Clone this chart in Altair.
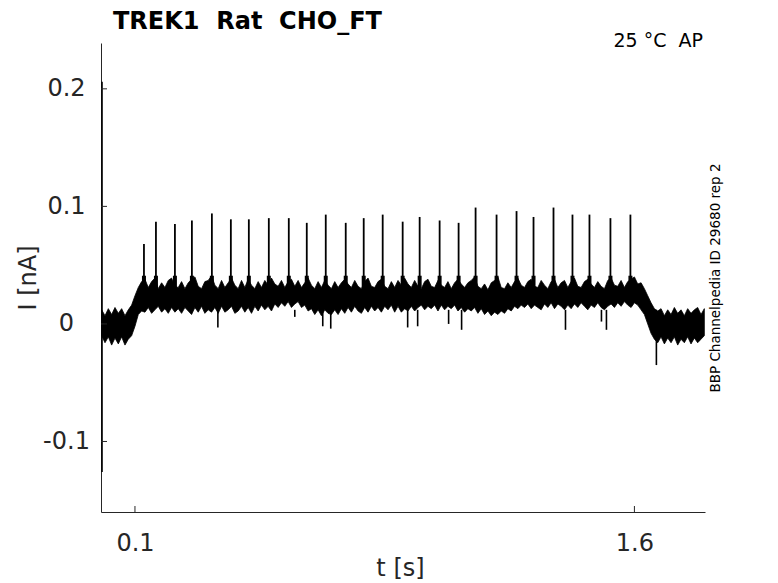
import altair as alt
import pandas as pd

# ---------------- data ----------------
# envelope of the overlaid current sweeps, sampled every 10 ms from t = 0.00 s to 1.81 s
UPPER = [
    0.012, 0.007, 0.013, 0.008, 0.014, 0.009, 0.013, 0.007, 0.012, 0.016,
    0.024, 0.031, 0.036,
    0.038, 0.031, 0.036, 0.039, 0.030, 0.035, 0.031, 0.037, 0.039, 0.032,
    0.031, 0.036, 0.030, 0.035, 0.038, 0.040, 0.032, 0.030, 0.036, 0.037,
    0.041, 0.033, 0.030, 0.037, 0.031, 0.035, 0.039, 0.033, 0.030, 0.037,
    0.031, 0.038, 0.033, 0.030, 0.036, 0.031, 0.037, 0.033, 0.039, 0.034,
    0.032, 0.037, 0.031, 0.036, 0.038, 0.032, 0.037, 0.031, 0.035, 0.039,
    0.033, 0.030, 0.036, 0.031, 0.037, 0.033, 0.030, 0.036, 0.031, 0.035,
    0.038, 0.034, 0.031, 0.037, 0.032, 0.030, 0.036, 0.039, 0.032, 0.031,
    0.036, 0.038, 0.032, 0.030, 0.036, 0.031, 0.037, 0.033, 0.039, 0.034,
    0.031, 0.037, 0.032, 0.030, 0.036, 0.038, 0.032, 0.031, 0.037, 0.033,
    0.031, 0.036, 0.030, 0.035, 0.038, 0.034, 0.031, 0.035, 0.037, 0.040,
    0.032, 0.030, 0.034, 0.029, 0.035, 0.037, 0.040, 0.031, 0.030, 0.035,
    0.031, 0.036, 0.039, 0.033, 0.031, 0.036, 0.038, 0.032, 0.031, 0.037,
    0.033, 0.030, 0.036, 0.038, 0.031, 0.035, 0.037, 0.031, 0.036, 0.039,
    0.032, 0.031, 0.036, 0.038, 0.034, 0.031, 0.036, 0.032, 0.030, 0.037,
    0.039, 0.033, 0.032, 0.037, 0.031, 0.036, 0.038, 0.040, 0.034, 0.035,
    0.030, 0.024, 0.018, 0.013, 0.011,
    0.013, 0.007, 0.012, 0.008, 0.014, 0.009, 0.012, 0.007, 0.013, 0.009,
    0.012, 0.014, 0.008, 0.013,
]
LOWER = [
    -0.010, -0.016, -0.011, -0.018, -0.012, -0.017, -0.011, -0.018, -0.013, -0.010,
    -0.002, 0.008, 0.011,
    0.010, 0.014, 0.009, 0.012, 0.015, 0.010, 0.013, 0.009, 0.014, 0.010,
    0.013, 0.009, 0.014, 0.011, 0.008, 0.014, 0.010, 0.015, 0.009, 0.012,
    0.010, 0.014, 0.009, 0.015, 0.010, 0.012, 0.015, 0.009, 0.011, 0.015,
    0.010, 0.014, 0.009, 0.015, 0.011, 0.016, 0.012, 0.015, 0.011, 0.017,
    0.014, 0.018, 0.015, 0.019, 0.014, 0.017, 0.019, 0.014, 0.016, 0.011,
    0.013, 0.008, 0.012, 0.007, 0.012, 0.009, 0.008, 0.012, 0.008, 0.013,
    0.009, 0.014, 0.010, 0.015, 0.011, 0.009, 0.014, 0.010, 0.015, 0.011,
    0.014, 0.010, 0.015, 0.012, 0.016, 0.010, 0.015, 0.010, 0.013, 0.011,
    0.015, 0.011, 0.014, 0.016, 0.012, 0.015, 0.013, 0.016, 0.011, 0.016,
    0.012, 0.015, 0.013, 0.016, 0.011, 0.014, 0.010, 0.013, 0.011, 0.014,
    0.009, 0.013, 0.008, 0.011, 0.007, 0.010, 0.008, 0.011, 0.009, 0.013,
    0.011, 0.015, 0.013, 0.016, 0.014, 0.017, 0.013, 0.016, 0.014, 0.012,
    0.017, 0.014, 0.018, 0.013, 0.017, 0.015, 0.012, 0.016, 0.013, 0.017,
    0.014, 0.018, 0.015, 0.012, 0.016, 0.014, 0.018, 0.014, 0.012, 0.015,
    0.017, 0.014, 0.018, 0.015, 0.019, 0.016, 0.014, 0.018, 0.016, 0.012,
    0.008, 0.000, -0.008, -0.013, -0.016,
    -0.011, -0.017, -0.012, -0.016, -0.011, -0.018, -0.013, -0.016, -0.011, -0.017,
    -0.012, -0.016, -0.013, -0.010,
]
TIME = [i / 100 for i in range(len(UPPER))]

# action-potential-clamp evoked current spikes: time [s] and peak [nA]
SPIKE_T = [0.127, 0.163, 0.220, 0.271, 0.331, 0.388, 0.442, 0.502, 0.562,
           0.616, 0.673, 0.733, 0.787, 0.844, 0.904, 0.955, 1.015, 1.072,
           1.123, 1.186, 1.246, 1.297, 1.357, 1.414, 1.465, 1.528, 1.588]
SPIKE_PEAK = [0.068, 0.087, 0.085, 0.088, 0.094, 0.089, 0.089, 0.090, 0.090,
              0.086, 0.093, 0.086, 0.090, 0.093, 0.087, 0.091, 0.088, 0.086,
              0.099, 0.093, 0.096, 0.091, 0.099, 0.093, 0.093, 0.090, 0.093]

# downward excursions: time [s] and minimum [nA]
DIP_T = [0.349, 0.580, 0.664, 0.688, 0.919, 0.949, 1.042, 1.081, 1.393, 1.501, 1.516, 1.666]
DIP_MIN = [-0.003, 0.006, -0.002, -0.004, -0.003, -0.002, 0.000, -0.005, -0.005, 0.002, -0.005, -0.035]

# capacitive transient at the very start
TRANS_T = [0.001]
TRANS_HI = [0.206]
TRANS_LO = [-0.126]

X_TICKS = [0.1, 1.6]
Y_TICKS = [-0.1, 0, 0.1, 0.2]

NB = "\u00a0"
TITLE = f"TREK1{NB}{NB}Rat{NB}{NB}CHO_FT"
TEMP = f"25{NB}°C{NB}{NB}AP"
SIDE = "BBP Channelpedia ID 29680 rep 2"

# ---------------- chart ----------------
FONT = "DejaVu Sans"
W, H = 604, 469
AX = "#262626"

xs = alt.Scale(domain=[-0.002, 1.812], nice=False, zero=False)
ys = alt.Scale(domain=[-0.16, 0.239], nice=False, zero=False)

band_df = pd.DataFrame({"t": TIME, "hi": UPPER, "lo": LOWER})
spk_df = pd.DataFrame({"t": SPIKE_T, "peak": SPIKE_PEAK,
                       "base": [0.030] * len(SPIKE_T), "bump": [0.041] * len(SPIKE_T)})
dip_df = pd.DataFrame({"t": DIP_T, "mn": DIP_MIN, "top": [0.012] * len(DIP_T)})
tr_df = pd.DataFrame({"t": TRANS_T, "hi": TRANS_HI, "lo": TRANS_LO})
yt_df = pd.DataFrame({"t": [0.0] * len(Y_TICKS), "hi": Y_TICKS})
xt_df = pd.DataFrame({"t": X_TICKS, "hi": [0.0] * len(X_TICKS)})

xaxis = alt.Axis(values=X_TICKS, grid=False, ticks=False, tickSize=0, labelPadding=19,
                 labelFont=FONT, labelFontSize=24, labelColor=AX,
                 domainColor=AX, domainWidth=1,
                 title="t [s]", titleFont=FONT, titleFontSize=24, titleFontWeight="normal",
                 titleColor=AX, titleX=299, titleY=56, titleAlign="center",
                 titleBaseline="middle", labelExpr="'' + datum.value")
yaxis = alt.Axis(values=Y_TICKS, grid=False, ticks=False, tickSize=0, labelPadding=35,
                 labelAlign="center", labelBaseline="middle",
                 labelFont=FONT, labelFontSize=24, labelColor=AX,
                 domainColor=AX, domainWidth=1,
                 title="I [nA]", titleFont=FONT, titleFontSize=24, titleFontWeight="normal",
                 titleColor=AX, titleX=-73, titleY=234.5, titleAngle=270,
                 titleAlign="center", titleBaseline="middle",
                 labelExpr="'' + datum.value")

X = alt.X("t:Q", scale=xs, axis=xaxis, title="t [s]")
Y = alt.Y("hi:Q", scale=ys, axis=yaxis, title="I [nA]")

band = alt.Chart(band_df).mark_area(color="black", stroke="black", strokeWidth=0.8,
                                    opacity=1).encode(x=X, y=Y, y2="lo:Q")

spikes = alt.Chart(spk_df).mark_rule(color="black", strokeWidth=1.8).encode(
    x=X, y=alt.Y("base:Q", scale=ys, axis=yaxis, title="I [nA]"), y2="peak:Q")
bumps = alt.Chart(spk_df).mark_rule(color="black", strokeWidth=4).encode(
    x=X, y=alt.Y("base:Q", scale=ys, axis=yaxis, title="I [nA]"), y2="bump:Q")
dips = alt.Chart(dip_df).mark_rule(color="black", strokeWidth=1.6).encode(
    x=X, y=alt.Y("top:Q", scale=ys, axis=yaxis, title="I [nA]"), y2="mn:Q")
trans = alt.Chart(tr_df).mark_rule(color="black", strokeWidth=1.6).encode(
    x=X, y=Y, y2="lo:Q")

# inward tick marks
yt = alt.Chart(yt_df).mark_rule(color=AX, strokeWidth=1).encode(
    y=Y, x=alt.value(0), x2=alt.value(6))
xt = alt.Chart(xt_df).mark_rule(color=AX, strokeWidth=1).encode(
    x=X, y=alt.value(H), y2=alt.value(H - 6))

title = alt.Chart(pd.DataFrame({"s": [TITLE]})).mark_text(
    font=FONT, fontSize=24, fontWeight="bold", align="left", baseline="alphabetic",
    color="black").encode(text="s:N", x=alt.value(12), y=alt.value(-14))
temp = alt.Chart(pd.DataFrame({"s": [TEMP]})).mark_text(
    font=FONT, fontSize=19, align="right", baseline="middle",
    color="black").encode(text="s:N", x=alt.value(602), y=alt.value(-2))
side = alt.Chart(pd.DataFrame({"s": [SIDE]})).mark_text(
    font=FONT, fontSize=13.5, align="center", baseline="middle", angle=270,
    color="black").encode(text="s:N", x=alt.value(615), y=alt.value(235))

chart = alt.layer(band, bumps, spikes, dips, trans, yt, xt, title, temp, side).properties(
    width=W, height=H,
    autosize=alt.AutoSizeParams(type="none"),
    padding={"left": 93, "top": 35, "right": 48, "bottom": 70},
    background="white",
).configure_view(strokeWidth=0)

chart.save("out.html", embed_options={"renderer": "svg", "actions": False})
